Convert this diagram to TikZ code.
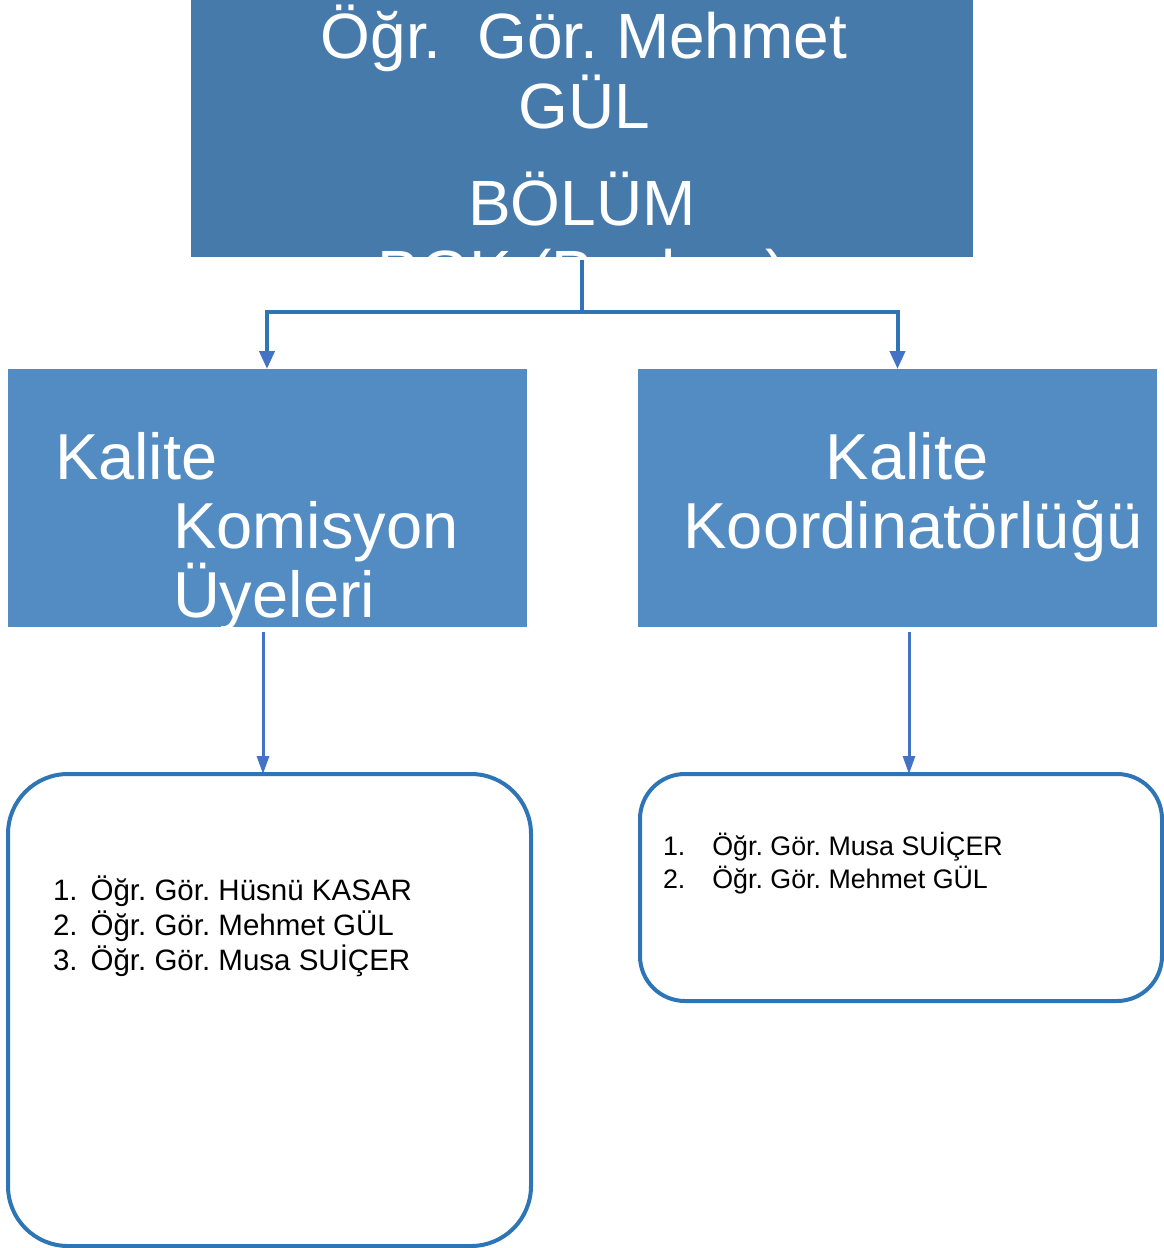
\documentclass[tikz,border=0pt]{standalone}
\usepackage{fontspec}
\setmainfont{Liberation Sans}
\usepackage{xcolor}
\usepackage{tikz}
\usetikzlibrary{arrows.meta}
\frenchspacing
\definecolor{HeadBlue}{HTML}{467AAA}
\definecolor{UnitBlue}{HTML}{538CC2}
\definecolor{LinkBlue}{HTML}{2E75B6}
\definecolor{TipBlue}{HTML}{4472C4}
\tikzset{
  BaseNode/.style = {inner sep=0pt, outer sep=0pt},
  HeadNode/.style = {BaseNode, rectangle, fill=HeadBlue, minimum width=782pt, minimum height=257pt},
  UnitNode/.style = {BaseNode, rectangle, fill=UnitBlue, minimum width=519pt, minimum height=258pt},
  ListNode/.style = {BaseNode, rectangle, rounded corners=#1, draw=LinkBlue, line width=4pt},
  HeadText/.style = {BaseNode, text=white, font=\fontsize{64}{70}\selectfont},
  UnitText/.style = {BaseNode, text=white, font=\fontsize{65}{68}\selectfont},
  ListText/.style = {BaseNode, anchor=base west, text=black},
  LinkLine/.style = {draw=LinkBlue, line width=4pt},
  LinkArrow/.style = {LinkLine, -{Triangle[length=18pt,width=15pt,color=TipBlue]}},
  DownArrow/.style = {draw=TipBlue, line width=3pt, -{Triangle[length=18pt,width=12pt]}},
}

\begin{document}
\begin{tikzpicture}[x=1pt,y=-1pt]
    \useasboundingbox (0,0) rectangle (1164,1248);
    % boxes
    \node [HeadNode] (bgk) at (582,128.5) {};
    \node [UnitNode] (kom) at (267,498) {};
    \node [UnitNode] (koord) at (897.5,498) {};
    \node [ListNode=60pt, minimum width=523pt, minimum height=472pt] (uyeler) at (269.5,1010) {};
    \node [ListNode=45pt, minimum width=522pt, minimum height=227pt] (koordlist) at (901,887.5) {};
    % head text
    \node [HeadText, anchor=base] (headA) at (584,58) {Öğr.\ \ Gör. Mehmet};
    \node [HeadText, anchor=base] (headB) at (584,128) {GÜL};
    \node [HeadText, anchor=base] (headC) at (582,225) {BÖLÜM};
    \node [HeadText, anchor=base] (headD) at (582,295) {BGK (Başkan)};
    % unit text
    \node [UnitText, anchor=base west] (komA) at (55,479) {Kalite};
    \node [UnitText, anchor=base west] (komB) at (173,548) {Komisyon};
    \node [UnitText, anchor=base west] (komC) at (173,617) {Üyeleri};
    \node [UnitText, anchor=base] (koordA) at (907,479) {Kalite};
    \node [UnitText, anchor=base] (koordB) at (913,548) {Koordinatörlüğü};
    % lists
    \node [ListText, font=\fontsize{29.5}{34.5}\selectfont] (uyelerText) at (53,900)
        {\begin{tabular}[t]{@{}l@{\hspace{13pt}}l@{}}
            1. & Öğr. Gör. Hüsnü KASAR\\
            2. & Öğr. Gör. Mehmet GÜL\\
            3. & Öğr. Gör. Musa SUİÇER
        \end{tabular}};
    \node [ListText, font=\fontsize{26.8}{33.5}\selectfont] (koordText) at (663,855)
        {\begin{tabular}[t]{@{}l@{\hspace{27pt}}l@{}}
            1. & Öğr. Gör. Musa SUİÇER\\
            2. & Öğr. Gör. Mehmet GÜL
        \end{tabular}};
    % connectors
    \draw [LinkLine] ([yshift=-3pt]bgk.south) -- ++(0,52) coordinate (split);
    \draw [LinkArrow] (split) -| (kom.north);
    \draw [LinkArrow] (split) -| (koord.north);
    \draw [DownArrow] ([xshift=-4pt,yshift=-5pt]kom.south) -- ([xshift=-4pt]kom.south |- uyeler.north);
    \draw [DownArrow] ([xshift=11.5pt,yshift=-5pt]koord.south) -- ([xshift=11.5pt]koord.south |- koordlist.north);
\end{tikzpicture}
\end{document}
